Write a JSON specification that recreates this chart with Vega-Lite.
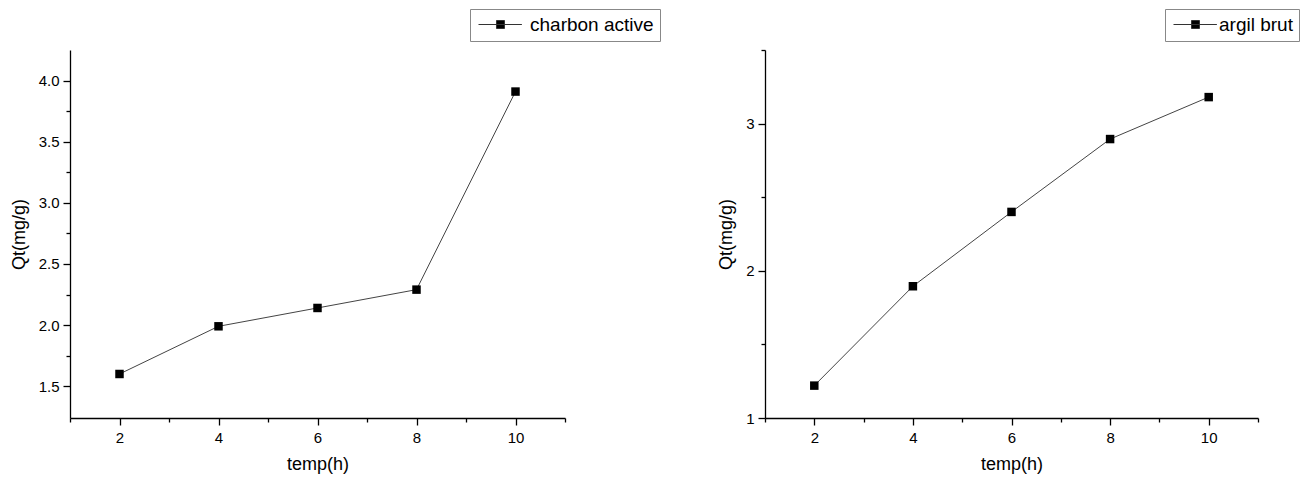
{
  "$schema": "https://vega.github.io/schema/vega-lite/v6.json",
  "background": "white",
  "padding": {"left": 10, "top": 8, "right": 1, "bottom": 5},
  "bounds": "flush",
  "spacing": 200,
  "resolve": {"scale": {"color": "independent"}, "legend": {"color": "independent"}},
  "datasets": {
    "charbon": [
      {"t": 2, "qt": 1.60, "series": "charbon active"},
      {"t": 4, "qt": 1.99, "series": "charbon active"},
      {"t": 6, "qt": 2.14, "series": "charbon active"},
      {"t": 8, "qt": 2.29, "series": "charbon active"},
      {"t": 10, "qt": 3.91, "series": "charbon active"}
    ],
    "argil": [
      {"t": 2, "qt": 1.22, "series": "argil brut"},
      {"t": 4, "qt": 1.895, "series": "argil brut"},
      {"t": 6, "qt": 2.40, "series": "argil brut"},
      {"t": 8, "qt": 2.895, "series": "argil brut"},
      {"t": 10, "qt": 3.18, "series": "argil brut"}
    ]
  },
  "config": {
    "font": "Liberation Sans",
    "view": {"stroke": null},
    "axis": {
      "grid": false,
      "domainColor": "black",
      "domainWidth": 1.3,
      "tickColor": "black",
      "tickWidth": 1.3,
      "labelColor": "black",
      "titleColor": "black",
      "labelFont": "Liberation Sans",
      "titleFont": "Liberation Sans",
      "labelFontSize": 15,
      "titleFontSize": 18,
      "titleFontWeight": "normal"
    },
    "legend": {
      "labelFont": "Liberation Sans",
      "labelFontSize": 19,
      "labelColor": "black",
      "strokeColor": "#888888",
      "fillColor": "white",
      "padding": 6,
      "title": null
    }
  },
  "hconcat": [
    {
      "width": 495,
      "height": 368,
      "data": {"name": "charbon"},
      "resolve": {"axis": {"x": "independent", "y": "independent"}},
      "layer": [
        {
          "mark": {"type": "line", "color": "#444444", "strokeWidth": 1},
          "encoding": {
            "x": {"field": "t", "type": "quantitative", "scale": {"domain": [1, 11], "nice": false, "zero": false},
                  "axis": {"orient": "bottom", "title": "temp(h)", "values": [2, 4, 6, 8, 10], "tickSize": 7, "labelPadding": 5, "titlePadding": 10}},
            "y": {"field": "qt", "type": "quantitative", "scale": {"domain": [1.24, 4.25], "nice": false, "zero": false},
                  "axis": {"orient": "left", "title": "Qt(mg/g)", "values": [1.5, 2.0, 2.5, 3.0, 3.5, 4.0], "format": ".1f", "tickSize": 7, "labelPadding": 4, "titlePadding": 10}}
          }
        },
        {
          "mark": {"type": "point", "shape": "square", "filled": true, "size": 72, "opacity": 1},
          "encoding": {
            "x": {"field": "t", "type": "quantitative",
                  "axis": {"orient": "bottom", "title": null, "labels": false, "domain": false, "values": [1, 3, 5, 7, 9, 11], "tickSize": 4}},
            "y": {"field": "qt", "type": "quantitative",
                  "axis": {"orient": "left", "title": null, "labels": false, "domain": false, "values": [1.75, 2.25, 2.75, 3.25, 3.75], "tickSize": 4}},
            "color": {"field": "series", "type": "nominal", "scale": {"range": ["black"]},
                      "legend": {"orient": "none", "legendX": 400, "legendY": -41, "labelOffset": 35, "symbolType": "M-1,0H5.2M1.57,-0.57H2.71V0.57H1.57Z", "symbolSize": 196, "symbolStrokeColor": "#333333", "symbolFillColor": "black", "symbolStrokeWidth": 1}}
          }
        }
      ]
    },
    {
      "width": 493,
      "height": 368,
      "data": {"name": "argil"},
      "resolve": {"axis": {"x": "independent", "y": "independent"}},
      "layer": [
        {
          "mark": {"type": "line", "color": "#444444", "strokeWidth": 1},
          "encoding": {
            "x": {"field": "t", "type": "quantitative", "scale": {"domain": [1, 11], "nice": false, "zero": false},
                  "axis": {"orient": "bottom", "title": "temp(h)", "values": [2, 4, 6, 8, 10], "tickSize": 7, "labelPadding": 5, "titlePadding": 10}},
            "y": {"field": "qt", "type": "quantitative", "scale": {"domain": [1, 3.5], "nice": false, "zero": false},
                  "axis": {"orient": "left", "title": "Qt(mg/g)", "values": [1, 2, 3], "format": "d", "tickSize": 7, "labelPadding": 4, "titlePadding": 10}}
          }
        },
        {
          "mark": {"type": "point", "shape": "square", "filled": true, "size": 72, "opacity": 1},
          "encoding": {
            "x": {"field": "t", "type": "quantitative",
                  "axis": {"orient": "bottom", "title": null, "labels": false, "domain": false, "values": [1, 3, 5, 7, 9, 11], "tickSize": 4}},
            "y": {"field": "qt", "type": "quantitative",
                  "axis": {"orient": "left", "title": null, "labels": false, "domain": false, "values": [1.5, 2.5, 3.5], "tickSize": 4}},
            "color": {"field": "series", "type": "nominal", "scale": {"range": ["black"]},
                      "legend": {"orient": "none", "legendX": 400, "legendY": -41, "labelOffset": 29, "symbolType": "M-1,0H5.2M1.57,-0.57H2.71V0.57H1.57Z", "symbolSize": 196, "symbolStrokeColor": "#333333", "symbolFillColor": "black", "symbolStrokeWidth": 1}}
          }
        }
      ]
    }
  ]
}
